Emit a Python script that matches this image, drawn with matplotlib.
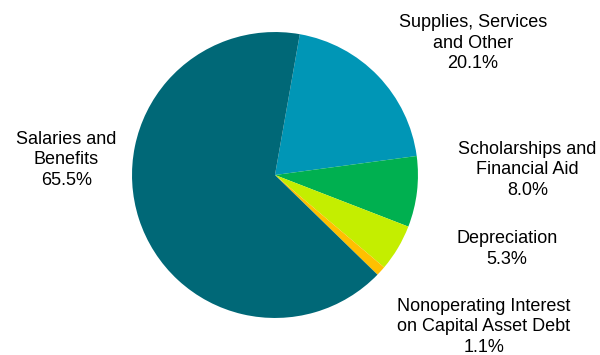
import matplotlib
matplotlib.use("Agg")
import matplotlib.pyplot as plt

categories = ["Supplies, Services\nand Other", "Scholarships and\nFinancial Aid", "Depreciation",
              "Nonoperating Interest\non Capital Asset Debt", "Salaries and\nBenefits"]
values = [20.1, 8.0, 5.3, 1.1, 65.5]
colors = ["#0096B6", "#00B050", "#C4EE00", "#FFC000", "#006877"]
label_pos = [(1.385, 0.923), (1.766, 0.035), (1.622, -0.517), (1.462, -1.063), (-1.458, 0.105)]

plt.rcParams['font.family'] = ['Liberation Sans', 'DejaVu Sans']
fig = plt.figure(figsize=(6, 3.55), dpi=100)
ax = fig.add_axes([0, 0, 1, 1])
ax.pie(values, colors=colors, startangle=80, counterclock=False, radius=1,
       wedgeprops=dict(linewidth=0))
for cat, v, (x, y) in zip(categories, values, label_pos):
    ax.text(x, y, f"{cat}\n{v:.1f}%", ha="center", va="center", fontsize=13,
            linespacing=1.28, color="#000000")
ax.set_xlim(-1.923, 2.273)
ax.set_ylim(-1.259, 1.224)
ax.set_aspect("equal")
ax.axis("off")
fig.savefig("out.png", dpi=100)
